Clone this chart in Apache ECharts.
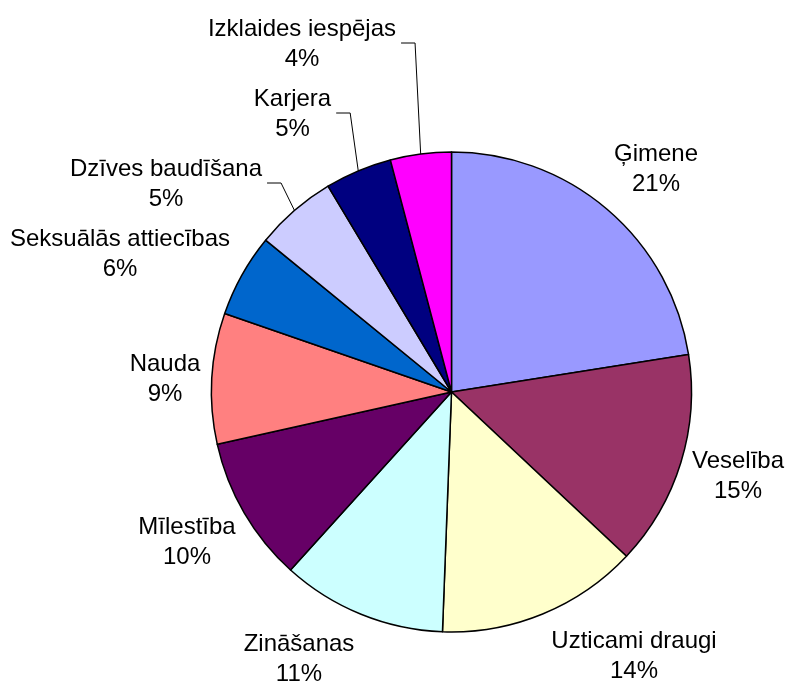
<!DOCTYPE html>
<html>
<head>
<meta charset="utf-8">
<title>Vērtības</title>
<script src="https://cdn.jsdelivr.net/npm/echarts@6/dist/echarts.min.js"></script>
<style>
  html, body { margin: 0; padding: 0; background: #fff; }
  #chart { width: 787px; height: 681px; }
</style>
</head>
<body>
<div id="chart"></div>
<script>
// --- dati (leņķi nolasīti no attēla, uzraksti kā attēlā) ---
const categories = ['Ģimene', 'Veselība', 'Uzticami draugi', 'Zināšanas', 'Mīlestība', 'Nauda',
  'Seksuālās attiecības', 'Dzīves baudīšana', 'Karjera', 'Izklaides iespējas'];
const values = [22.5, 14.5, 13.6, 11.1, 9.8, 8.8, 5.6, 5.5, 4.5, 4.1];
const percentText = [21, 15, 14, 11, 10, 9, 6, 5, 5, 4];

// Excel paletes krāsas
const colors = ['#9999ff', '#993366', '#ffffcc', '#ccffff', '#660066', '#ff8080',
  '#0066cc', '#ccccff', '#000080', '#ff00ff'];

const CENTER = [451.5, 392];
const RADIUS = 240;

// uzrakstu bloku centri (kā oriģinālā)
const labelSpots = {
  'Ģimene': [656, 169],
  'Veselība': [738, 476],
  'Uzticami draugi': [634, 656],
  'Zināšanas': [299, 659],
  'Mīlestība': [187, 542],
  'Nauda': [165, 379],
  'Seksuālās attiecības': [120, 254],
  'Dzīves baudīšana': [166, 184],
  'Karjera': [292.5, 114],
  'Izklaides iespējas': [302, 44]
};
const withLine = ['Dzīves baudīšana', 'Karjera', 'Izklaides iespējas'];

const total = values.reduce((a, b) => a + b, 0);
const midAngle = (idx) => {
  let cum = 0;
  for (let i = 0; i < idx; i++) cum += values[i];
  return (cum + values[idx] / 2) / total * Math.PI * 2;
};

const chart = echarts.init(document.getElementById('chart'));

const option = {
  backgroundColor: '#ffffff',
  animation: false,
  series: [{
    type: 'pie',
    center: CENTER,
    radius: RADIUS,
    startAngle: 90,
    clockwise: true,
    avoidLabelOverlap: false,
    emphasis: { disabled: true },
    itemStyle: { borderColor: '#000', borderWidth: 1.5 },
    label: {
      show: true,
      position: 'outside',
      formatter: (p) => p.name + '\n' + percentText[p.dataIndex] + '%',
      fontFamily: '"Liberation Sans", Arial, sans-serif',
      fontSize: 24,
      lineHeight: 30,
      color: '#000',
      align: 'center'
    },
    labelLine: {
      show: true,
      length: 10,
      length2: 10,
      lineStyle: { color: '#000', width: 1 }
    },
    labelLayout: (params) => {
      const name = categories[params.dataIndex];
      const spot = labelSpots[name];
      const res = { x: spot[0], y: spot[1], align: 'center', verticalAlign: 'middle' };
      if (withLine.includes(name)) {
        const a = midAngle(params.dataIndex);
        const ax = CENTER[0] + RADIUS * Math.sin(a);
        const ay = CENTER[1] - RADIUS * Math.cos(a);
        const right = spot[0] + params.labelRect.width / 2;
        res.labelLinePoints = [[ax, ay], [right + 19, spot[1] - 1], [right + 5, spot[1] - 1]];
      }
      return res;
    },
    data: categories.map((name, i) => ({
      name: name,
      value: values[i],
      itemStyle: { color: colors[i] },
      labelLine: { show: withLine.includes(name) }
    }))
  }]
};

chart.setOption(option);
window.addEventListener('resize', () => chart.resize());
</script>
</body>
</html>
